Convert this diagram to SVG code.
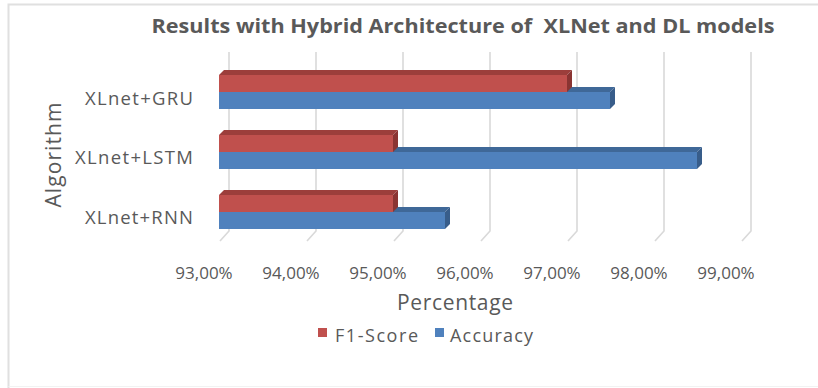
<svg xmlns="http://www.w3.org/2000/svg" width="818" height="388" viewBox="0 0 818 388">
<style>
.t{font-family:"Open Sans","Liberation Sans",sans-serif;fill:#595959}
.ttl{font-size:19px;font-weight:bold}
.cat{font-size:18.5px}
.tick{font-size:17px}
.axt{font-size:21px}
.leg{font-size:18px}
.grid{stroke:#D9D9D9;stroke-width:1.6;fill:none}
.rf{fill:#C0504D}.rt{fill:#9C3E3B}.rs{fill:#8A3432}
.bf{fill:#4F81BD}.bt{fill:#3F6898}.bs{fill:#385D8A}
</style>
<rect x="0" y="0" width="818" height="388" fill="#FFFFFF"/>
<g id="frame">
<path d="M8.5,388 V4.5 H818" fill="none" stroke="#E0E0E0" stroke-width="2"/>
<path d="M8.5,386.5 H818" fill="none" stroke="#F2F2F2" stroke-width="1"/>
</g>
<text id="title" class="t ttl" x="463" y="33" text-anchor="middle" textLength="623" lengthAdjust="spacingAndGlyphs" xml:space="preserve">Results with Hybrid Architecture of  XLNet and DL models</text>
<g id="gridlines">
<path class="grid" d="M229,52V231L220,241"/>
<path class="grid" d="M316,52V231L307,241"/>
<path class="grid" d="M403,52V231L394,241"/>
<path class="grid" d="M490,52V231L481,241"/>
<path class="grid" d="M577,52V231L568,241"/>
<path class="grid" d="M664,52V231L655,241"/>
<path class="grid" d="M751,52V231L742,241"/>
</g>
<g id="bars-gru">
<polygon class="bt" points="219,92 610,92 615,87 224,87"/>
<polygon class="bs" points="610,92 615,87 615,104 610,109"/>
<rect class="bf" x="219" y="92" width="391" height="17"/>
<polygon class="rt" points="219,75 567,75 572,70 224,70"/>
<polygon class="rs" points="567,75 572,70 572,87 567,92"/>
<rect class="rf" x="219" y="75" width="348" height="17"/>
</g>
<g id="bars-lstm">
<polygon class="bt" points="219,152 697,152 702,147 224,147"/>
<polygon class="bs" points="697,152 702,147 702,164 697,169"/>
<rect class="bf" x="219" y="152" width="478" height="17"/>
<polygon class="rt" points="219,135 393,135 398,130 224,130"/>
<polygon class="rs" points="393,135 398,130 398,147 393,152"/>
<rect class="rf" x="219" y="135" width="174" height="17"/>
</g>
<g id="bars-rnn">
<polygon class="bt" points="219,212 445,212 450,207 224,207"/>
<polygon class="bs" points="445,212 450,207 450,224 445,229"/>
<rect class="bf" x="219" y="212" width="226" height="17"/>
<polygon class="rt" points="219,195 393,195 398,190 224,190"/>
<polygon class="rs" points="393,195 398,190 398,207 393,212"/>
<rect class="rf" x="219" y="195" width="174" height="17"/>
</g>
<g id="category-labels">
<text class="t cat" x="193" y="105" text-anchor="end" textLength="108">XLnet+GRU</text>
<text class="t cat" x="193" y="164" text-anchor="end" textLength="118">XLnet+LSTM</text>
<text class="t cat" x="193" y="224" text-anchor="end" textLength="108">XLnet+RNN</text>
</g>
<g id="tick-labels">
<text class="t tick" x="204" y="279" text-anchor="middle">93,00%</text>
<text class="t tick" x="291" y="279" text-anchor="middle">94,00%</text>
<text class="t tick" x="378" y="279" text-anchor="middle">95,00%</text>
<text class="t tick" x="465" y="279" text-anchor="middle">96,00%</text>
<text class="t tick" x="552" y="279" text-anchor="middle">97,00%</text>
<text class="t tick" x="639" y="279" text-anchor="middle">98,00%</text>
<text class="t tick" x="726" y="279" text-anchor="middle">99,00%</text>
</g>
<text id="x-title" class="t axt" x="455" y="310" text-anchor="middle" textLength="116">Percentage</text>
<text id="y-title" class="t axt" transform="translate(61,155) rotate(-90)" text-anchor="middle" textLength="105">Algorithm</text>
<g id="legend">
<rect class="rf" x="318" y="328" width="9" height="9"/>
<text class="t leg" x="335" y="342" textLength="83">F1-Score</text>
<rect class="bf" x="435" y="328" width="9" height="9"/>
<text class="t leg" x="450" y="342" textLength="83">Accuracy</text>
</g>
</svg>
